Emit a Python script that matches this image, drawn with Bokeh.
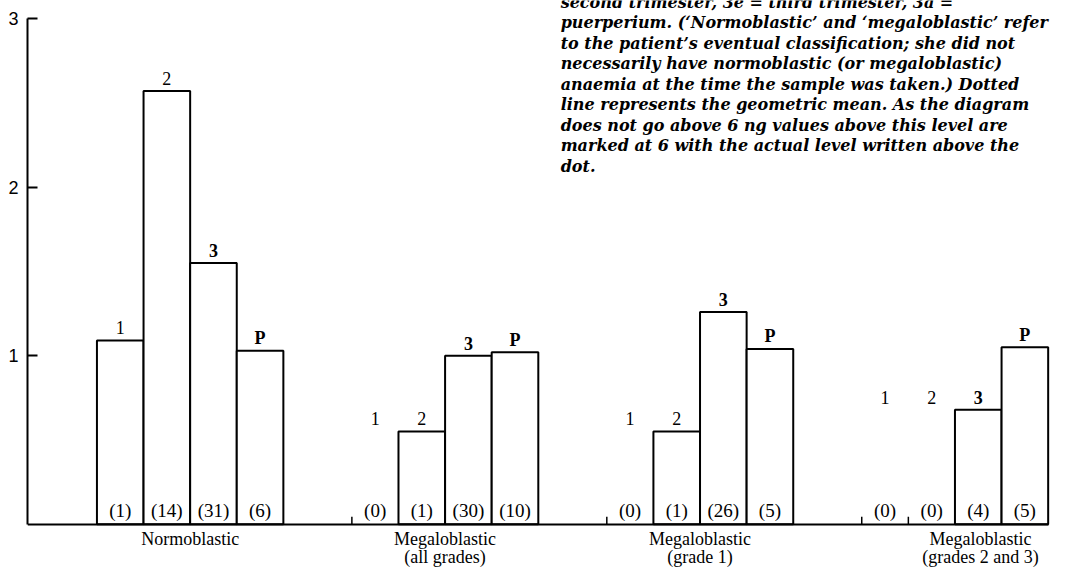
from bokeh.plotting import figure
from bokeh.models import Range1d, FixedTicker, LinearAxis, ColumnDataSource
from bokeh.core.properties import value
from bokeh.embed import file_html
from bokeh.resources import INLINE

# ---- data ----
group_titles = ["Normoblastic", "Megaloblastic", "Megaloblastic", "Megaloblastic"]
group_subtitles = ["", "(all grades)", "(grade 1)", "(grades 2 and 3)"]
stages = ["1", "2", "3", "P"]
normoblastic = [1.09, 2.57, 1.55, 1.03]
mega_all = [0.0, 0.55, 1.00, 1.02]
mega_grade1 = [0.0, 0.55, 1.26, 1.04]
mega_grade23 = [0.0, 0.0, 0.68, 1.05]
n_normoblastic = [1, 14, 31, 6]
n_mega_all = [0, 1, 30, 10]
n_mega_grade1 = [0, 1, 26, 5]
n_mega_grade23 = [0, 0, 4, 5]
y_ticks = [1, 2, 3]
caption = [
    "second trimester, 3e = third trimester, 3a =",
    "puerperium. (\u2018Normoblastic\u2019 and \u2018megaloblastic\u2019 refer",
    "to the patient\u2019s eventual classification; she did not",
    "necessarily have normoblastic (or megaloblastic)",
    "anaemia at the time the sample was taken.) Dotted",
    "line represents the geometric mean. As the diagram",
    "does not go above 6 ng values above this level are",
    "marked at 6 with the actual level written above the",
    "dot.",
]

values = [normoblastic, mega_all, mega_grade1, mega_grade23]
counts = [n_normoblastic, n_mega_all, n_mega_grade1, n_mega_grade23]

# ---- layout constants ----
SLOT = 1.0
FIRST = 1.49
STEP = 5.47
X_END = 21.95
Y_END = 3.107
Y_START = -0.262
CAP_X = 11.44
CAP_TOP = 3.098
CAP_STEP = 0.122
LAB_PAD = 0.075
CNT_PAD = 0.084
TITLE_Y = -0.089
SUB_Y = -0.196
LAST_SHIFT = 0.55
SERIF = "Liberation Serif"

left, right, top, lab_y, lab_txt, lab_style, cx, cnt_txt = [], [], [], [], [], [], [], []
zl, centers = [], []
for g, (vals, ns) in enumerate(zip(values, counts)):
    g0 = FIRST + g * STEP
    centers.append(g0 + 2 * SLOT)
    first_nz = next(v for v in vals if v > 0)
    for s, (v, n) in enumerate(zip(vals, ns)):
        l = g0 + s * SLOT
        if v > 0:
            left.append(l); right.append(l + SLOT); top.append(v)
        else:
            zl.append(l)
        cx.append(l + SLOT / 2)
        lab_y.append((v if v > 0 else first_nz) + LAB_PAD)
        lab_txt.append(stages[s])
        lab_style.append("bold" if stages[s] in ("3", "P") else "normal")
        cnt_txt.append("(%d)" % n)

label_x = centers[:-1] + [centers[-1] + LAST_SHIFT]
last_right = FIRST + 3 * STEP + 4 * SLOT

p = figure(width=1050, height=568, output_backend="svg", toolbar_location=None,
           x_range=Range1d(0, X_END), y_range=Range1d(Y_START, Y_END),
           x_axis_location=None, y_axis_location=None, min_border=0)
p.min_border_left = 27
p.outline_line_color = None
p.xgrid.visible = False
p.ygrid.visible = False
p.background_fill_color = "white"
p.border_fill_color = "white"

# bars
p.quad(left=left, right=right, bottom=0, top=top, fill_color="white",
       line_color="black", line_width=2)
# markers for empty bars
p.segment(x0=zl, y0=[0] * len(zl), x1=zl, y1=[0.045] * len(zl),
          line_color="black", line_width=1.5)

src = ColumnDataSource(dict(x=cx, y=lab_y, t=lab_txt, st=lab_style,
                            y0=[CNT_PAD] * len(cx), c=cnt_txt))
p.text(x="x", y="y", text="t", source=src, text_align="center",
       text_baseline="middle", text_font=value(SERIF),
       text_font_size="18px", text_font_style="st", text_color="black")
p.text(x="x", y="y0", text="c", source=src, text_align="center",
       text_baseline="middle", text_font=value(SERIF),
       text_font_size="19px", text_color="black")

# group names under the baseline
p.text(x=label_x, y=[TITLE_Y] * len(label_x), text=group_titles,
       text_align="center", text_baseline="middle", text_font=value(SERIF),
       text_font_size="18px", text_color="black")
p.text(x=label_x, y=[SUB_Y] * len(label_x), text=group_subtitles,
       text_align="center", text_baseline="middle", text_font=value(SERIF),
       text_font_size="18px", text_color="black")

# caption
p.text(x=[CAP_X] * len(caption),
       y=[CAP_TOP - i * CAP_STEP for i in range(len(caption))],
       text=caption, text_align="left", text_baseline="middle",
       text_font=value("DejaVu Serif"), text_font_style="bold italic",
       text_font_size="16px", text_color="black")

# axes
yaxis = LinearAxis(ticker=FixedTicker(ticks=y_ticks), bounds=(0, 3))
yaxis.major_tick_in = 10
yaxis.major_tick_out = 0
yaxis.minor_tick_line_color = None
yaxis.axis_line_width = 2
yaxis.major_tick_line_width = 2
yaxis.major_label_standoff = 9
yaxis.major_label_text_font = "Liberation Sans"
yaxis.major_label_text_font_size = "18px"
yaxis.major_label_text_color = "black"
p.add_layout(yaxis, "left")

xaxis = LinearAxis(ticker=FixedTicker(ticks=[]), bounds=(0, last_right),
                   fixed_location=0)
xaxis.major_tick_in = 0
xaxis.major_tick_out = 0
xaxis.minor_tick_in = 0
xaxis.minor_tick_out = 0
xaxis.major_label_standoff = 0
xaxis.axis_label_standoff = 0
xaxis.axis_line_width = 2
p.add_layout(xaxis, "below")

open("out.html", "w").write(file_html(p, INLINE))
